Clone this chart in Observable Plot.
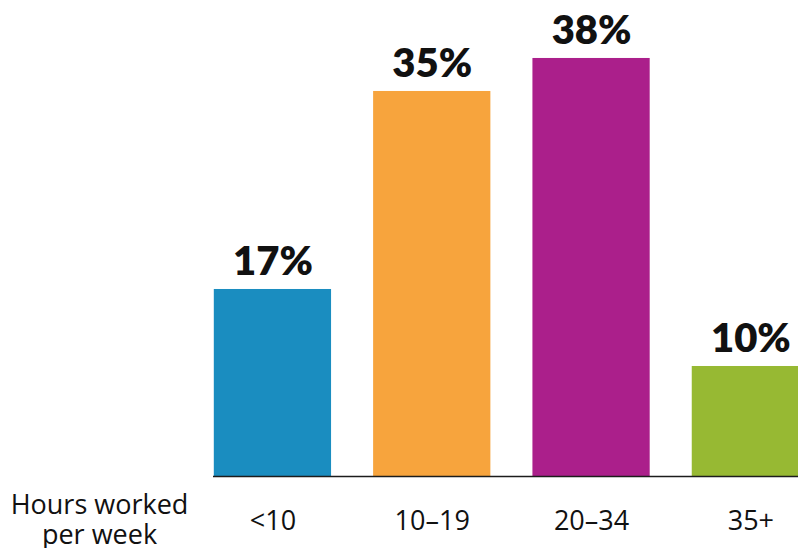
<!DOCTYPE html>
<html>
<head>
<meta charset="utf-8">
<script src="https://cdn.jsdelivr.net/npm/d3@7"></script>
<script src="https://cdn.jsdelivr.net/npm/@observablehq/plot@0.6"></script>
<style>
  html, body { margin: 0; padding: 0; background: #fff; overflow: hidden; }
  #chart svg { display: block; font-family: Lato, "Open Sans", sans-serif; }
</style>
</head>
<body>
<div id="chart"></div>
<script>
const categories = ["<10", "10–19", "20–34", "35+"];
const shares = [17, 35, 38, 10];
const valueLabels = ["17%", "35%", "38%", "10%"];
const colors = ["#1a8dc0", "#f7a43d", "#ab1f8b", "#97b933"];
const axisTitle = "Hours worked\nper week";

const data = categories.map((c, i) => ({cat: c, v: shares[i], label: valueLabels[i]}));

const chart = Plot.plot({
  width: 798,
  height: 548,
  marginLeft: 213,
  marginRight: 0,
  marginTop: 0,
  marginBottom: 72,
  style: {fontFamily: "Lato, 'Open Sans', sans-serif", background: "#fff"},
  x: {domain: categories, range: [213.8, 809], paddingInner: 0.264, paddingOuter: 0, align: 0, round: false, label: null},
  y: {domain: [0, 43.27], axis: null},
  color: {domain: categories, range: colors},
  marks: [
    Plot.barY(data, {x: "cat", y: "v", fill: "cat"}),
    Plot.ruleY([0], {stroke: "#1c1c1c", strokeWidth: 1.6}),
    Plot.text(data, {x: "cat", y: "v", text: "label", dy: -14, lineAnchor: "bottom", fontSize: 40, fontWeight: 800, fill: "#111"}),
    Plot.axisX({tickSize: 0, tickPadding: 34, fontSize: 27, fontFamily: "'Open Sans', sans-serif", label: null, color: "#111"}),
    Plot.text([axisTitle], {frameAnchor: "bottom-left", dx: -114, dy: 16, lineAnchor: "top", textAnchor: "middle", fontSize: 27, fontFamily: "'Open Sans', sans-serif", lineHeight: 1.12, fill: "#111"})
  ]
});
document.getElementById("chart").appendChild(chart);
</script>
</body>
</html>
